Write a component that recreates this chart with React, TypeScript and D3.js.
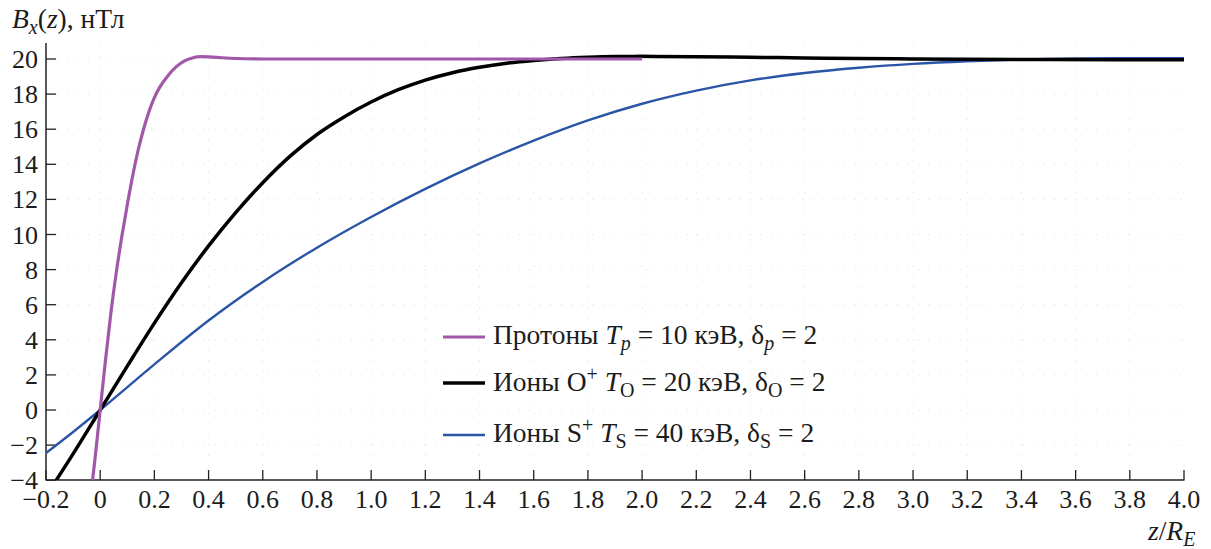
import React from "react";
import * as d3 from "d3";

const xTicks = [-0.2, 0, 0.2, 0.4, 0.6, 0.8, 1.0, 1.2, 1.4, 1.6, 1.8, 2.0, 2.2, 2.4, 2.6, 2.8, 3.0, 3.2, 3.4, 3.6, 3.8, 4.0];
const yTicks = [-4, -2, 0, 2, 4, 6, 8, 10, 12, 14, 16, 18, 20];

const protonZ = [-0.04, -0.02, 0, 0.02, 0.04, 0.06, 0.08, 0.1, 0.12, 0.14, 0.16, 0.18, 0.2, 0.22, 0.25, 0.28, 0.31, 0.34, 0.37, 0.4, 0.45, 0.5, 0.6, 0.8, 1.0, 1.5, 2.0];
const protonB = [-5.6, -2.9, 0, 2.9, 5.6, 7.9, 9.9, 11.7, 13.35, 14.8, 16.0, 17.0, 17.8, 18.4, 19.05, 19.55, 19.88, 20.06, 20.13, 20.12, 20.07, 20.03, 20.0, 20.0, 20.0, 20.0, 20.0];

const oxygenZ = [-0.2, -0.1, 0, 0.1, 0.2, 0.3, 0.4, 0.5, 0.6, 0.7, 0.8, 0.9, 1.0, 1.1, 1.2, 1.3, 1.4, 1.5, 1.6, 1.7, 1.8, 1.9, 2.0, 2.2, 2.4, 2.6, 2.8, 3.0, 3.5, 4.0];
const oxygenB = [-4.9, -2.5, 0, 2.5, 4.95, 7.25, 9.35, 11.25, 12.95, 14.45, 15.7, 16.7, 17.55, 18.25, 18.8, 19.22, 19.53, 19.76, 19.92, 20.03, 20.1, 20.14, 20.15, 20.13, 20.1, 20.06, 20.03, 20.0, 19.97, 19.96];

const sulfurZ = [-0.2, -0.1, 0, 0.2, 0.4, 0.6, 0.8, 1.0, 1.2, 1.4, 1.6, 1.8, 2.0, 2.2, 2.4, 2.6, 2.8, 3.0, 3.2, 3.4, 3.6, 3.8, 4.0];
const sulfurB = [-2.45, -1.25, 0, 2.6, 5.1, 7.3, 9.25, 11.0, 12.6, 14.05, 15.35, 16.5, 17.45, 18.2, 18.78, 19.2, 19.5, 19.72, 19.87, 19.97, 20.03, 20.05, 20.05];

const FONT = "'Liberation Serif', 'Times New Roman', serif";

export default function App() {
  const x = d3.scaleLinear().domain([-0.2, 4.0]).range([46, 1184]);
  const y = d3.scaleLinear().domain([-4, 20]).range([480.2, 59]);
  const line = d3
    .line<[number, number]>()
    .x((d) => x(d[0]))
    .y((d) => y(d[1]))
    .curve(d3.curveMonotoneX);
  const mk = (zs: number[], bs: number[]) => line(zs.map((z, i) => [z, bs[i]] as [number, number])) || "";

  const fmtX = (v: number) => (v === 0 ? "0" : (v < 0 ? "\u2212" : "") + Math.abs(v).toFixed(1));
  const fmtY = (v: number) => (v < 0 ? "\u2212" : "") + Math.abs(v);

  const legend = [
    { color: "#a258a8", w: 3.2, y: 337 },
    { color: "#000000", w: 3.5, y: 383 },
    { color: "#2a55a6", w: 2.4, y: 435 },
  ];
  const TXT = "#1c1c1c";
  const LF = 27.5;
  const SF = 20;

  return (
    <svg width={1211} height={549} style={{ position: "absolute", left: 0, top: 0, background: "#fff" }} fontFamily={FONT}>
      <defs>
        <clipPath id="plot">
          <rect x={46} y={30} width={1160} height={450} />
        </clipPath>
      </defs>
      {xTicks.slice(1).map((t) => (
        <line key={"gx" + t} x1={x(t)} x2={x(t)} y1={45} y2={480} stroke="#e8e8e8" strokeWidth={1} strokeDasharray="1.5,9" />
      ))}
      {yTicks.slice(1).map((t) => (
        <line key={"gy" + t} x1={46} x2={1184} y1={y(t)} y2={y(t)} stroke="#e8e8e8" strokeWidth={1} strokeDasharray="1.5,9" />
      ))}

      <line x1={46} x2={46} y1={43} y2={480.5} stroke="#222" strokeWidth={1.5} />
      <line x1={46} x2={1184.5} y1={480} y2={480} stroke="#222" strokeWidth={1.5} />
      {yTicks.map((t) => (
        <g key={"yt" + t}>
          <line x1={46} x2={56} y1={y(t)} y2={y(t)} stroke="#222" strokeWidth={1.3} />
          <text x={38} y={y(t) + 9} fontSize={26} textAnchor="end" fill={TXT}>
            {fmtY(t)}
          </text>
        </g>
      ))}
      {xTicks.map((t) => (
        <g key={"xt" + t}>
          <line x1={x(t)} x2={x(t)} y1={480} y2={470} stroke="#222" strokeWidth={1.3} />
          <text x={x(t)} y={508} fontSize={26} textAnchor="middle" fill={TXT}>
            {fmtX(t)}
          </text>
        </g>
      ))}

      <g clipPath="url(#plot)" fill="none" strokeLinejoin="round" strokeLinecap="butt">
        <path d={mk(sulfurZ, sulfurB)} stroke="#2a55a6" strokeWidth={2.4} />
        <path d={mk(oxygenZ, oxygenB)} stroke="#000" strokeWidth={3.5} />
        <path d={mk(protonZ, protonB)} stroke="#a258a8" strokeWidth={3.2} />
      </g>

      <text x={12} y={28} fontSize={LF} fill={TXT}>
        <tspan fontStyle="italic">B</tspan>
        <tspan fontStyle="italic" fontSize={SF} dy={6}>x</tspan>
        <tspan dy={-6}>(</tspan>
        <tspan fontStyle="italic">z</tspan>
        <tspan>), нТл</tspan>
      </text>

      <text x={1148} y={540} fontSize={LF} fill={TXT}>
        <tspan fontStyle="italic">z</tspan>
        <tspan>/</tspan>
        <tspan fontStyle="italic">R</tspan>
        <tspan fontStyle="italic" fontSize={SF} dy={6}>E</tspan>
      </text>

      {legend.map((l, i) => (
        <line key={"lg" + i} x1={443} x2={485} y1={l.y} y2={l.y} stroke={l.color} strokeWidth={l.w} />
      ))}
      <text x={493} y={344} fontSize={LF} fill={TXT}>
        <tspan>Протоны </tspan>
        <tspan fontStyle="italic">T</tspan>
        <tspan fontStyle="italic" fontSize={SF} dy={6}>p</tspan>
        <tspan dy={-6}> = 10 кэВ, δ</tspan>
        <tspan fontStyle="italic" fontSize={SF} dy={6}>p</tspan>
        <tspan dy={-6}> = 2</tspan>
      </text>
      <text x={493} y={391} fontSize={LF} fill={TXT}>
        <tspan>Ионы O</tspan>
        <tspan fontSize={SF} dy={-10}>+</tspan>
        <tspan dy={10}> </tspan>
        <tspan fontStyle="italic">T</tspan>
        <tspan fontSize={SF} dy={6}>O</tspan>
        <tspan dy={-6}> = 20 кэВ, δ</tspan>
        <tspan fontSize={SF} dy={6}>O</tspan>
        <tspan dy={-6}> = 2</tspan>
      </text>
      <text x={493} y={442} fontSize={LF} fill={TXT}>
        <tspan>Ионы S</tspan>
        <tspan fontSize={SF} dy={-10}>+</tspan>
        <tspan dy={10}> </tspan>
        <tspan fontStyle="italic">T</tspan>
        <tspan fontSize={SF} dy={6}>S</tspan>
        <tspan dy={-6}> = 40 кэВ, δ</tspan>
        <tspan fontSize={SF} dy={6}>S</tspan>
        <tspan dy={-6}> = 2</tspan>
      </text>
    </svg>
  );
}
